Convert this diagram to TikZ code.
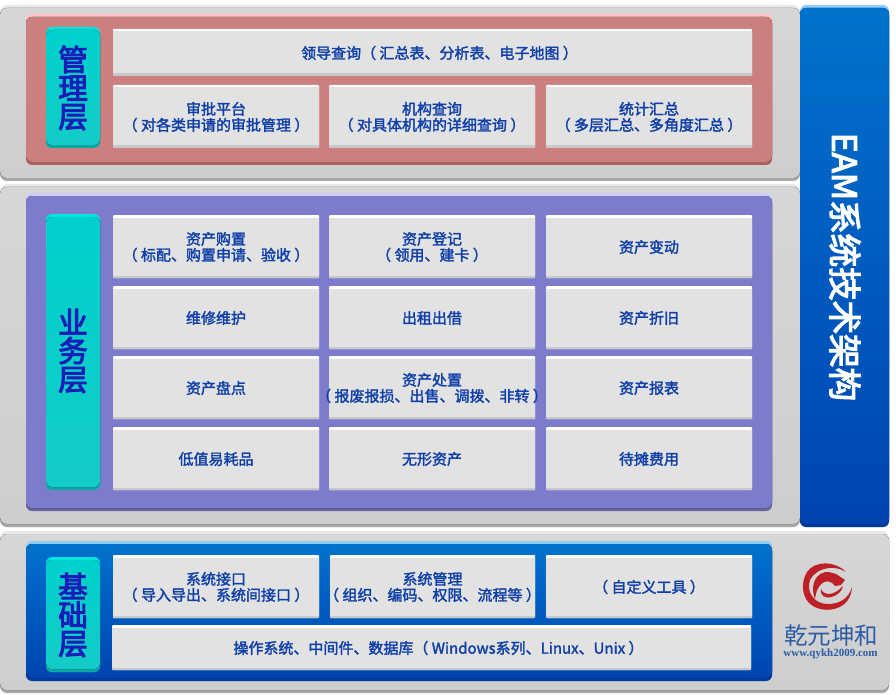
\documentclass[tikz,border=0pt]{standalone}
\usepackage{fontspec}
\setmainfont{Noto Sans CJK SC}
\newfontfamily\medfont[FakeBold=2]{Noto Sans CJK SC}
\newfontfamily\sidefont[FakeBold=3.5]{Noto Sans CJK SC}
\newfontfamily\urlfont{Liberation Serif}
\definecolor{celltxt}{HTML}{0F3FA8}
\definecolor{sidetxt}{HTML}{1A1DB8}
\definecolor{logotxt}{HTML}{2A5CA4}
\definecolor{logored}{HTML}{BE2028}
\definecolor{graylight}{HTML}{E9E9E9}
\definecolor{grayshade}{HTML}{A8A8A8}
\definecolor{graytop}{HTML}{D6D6D6}
\definecolor{graybot}{HTML}{CECECE}
\definecolor{bluelight}{HTML}{8CCBFA}
\definecolor{bluedark}{HTML}{003A9E}
\definecolor{bluetop}{HTML}{0072CC}
\definecolor{bluebot}{HTML}{0044B2}
\definecolor{redlight}{HTML}{FFC4C4}
\definecolor{reddark}{HTML}{A86262}
\definecolor{redface}{HTML}{CC7F7F}
\definecolor{purplelight}{HTML}{CDCDF8}
\definecolor{purpledark}{HTML}{66669E}
\definecolor{purpleface}{HTML}{7C7BCC}
\definecolor{tablight}{HTML}{00E4E0}
\definecolor{tabdark}{HTML}{0CA6A6}
\definecolor{tabtop}{HTML}{00D0CC}
\definecolor{tabbot}{HTML}{14CCC8}
\definecolor{cellshade}{HTML}{C8C8C8}
\definecolor{cellface}{HTML}{E2E2E2}
% x1,y1,x2,y2,radius,light,dark,top,bottom
\newcommand\bevelbox[9]{%
  \fill[#6,rounded corners=#5pt] (#1,#2) rectangle (#3,#4);
  \fill[#7,rounded corners=#5pt] (#1,#2+4) rectangle (#3,#4);
  \fill[top color=#8,bottom color=#9,rounded corners=#5pt] (#1,#2+3) rectangle (#3,#4-3);
}
\newcommand\cellbox[6]{% name,x1,y1,x2,y2,text
  \fill[white,rounded corners=1pt] (#2,#3) rectangle (#4,#5);
  \fill[cellshade,rounded corners=1pt] (#2,#3+3) rectangle (#4,#5);
  \fill[cellface] (#2,#3+2.5) rectangle (#4,#5-2.5);
  \node[celltext] (#1) at ({(#2+#4)/2},{(#3+#5)/2+0.5}) {#6};
}
\tikzset{
  celltext/.style={text=celltxt,align=center,font=\medfont\fontsize{15}{16}\selectfont,inner sep=0pt},
  sidetext/.style={text=sidetxt,align=center,font=\sidefont\fontsize{29.5}{28.5}\selectfont,inner sep=0pt},
}
\begin{document}
\begin{tikzpicture}[x=1pt,y=-1pt]
\useasboundingbox (0,0) rectangle (896,695);
\fill[white] (0,0) rectangle (896,695);
% grey panels
\bevelbox{0}{5}{800}{181}{7}{graylight}{grayshade}{graytop}{graybot}
\bevelbox{0}{184}{800}{527}{7}{graylight}{grayshade}{graytop}{graybot}
\bevelbox{0}{531}{889}{693}{7}{graylight}{grayshade}{graytop}{graybot}
% title column
\bevelbox{800}{5}{889}{527}{6}{bluelight}{bluedark}{bluetop}{bluebot}
\node[text=white,font=\sidefont\fontsize{33.5}{33}\selectfont,rotate=-90,inner sep=0pt] (title) at (845,267) {EAM系统技术架构};
% layers
\bevelbox{26}{14}{772}{165}{6}{redlight}{reddark}{redface}{redface}
\bevelbox{26}{193}{772}{511}{6}{purplelight}{purpledark}{purpleface}{purpleface}
\bevelbox{26}{541}{772}{681}{6}{bluelight}{bluedark}{bluetop}{bluebot}
% side tabs
\bevelbox{46}{27}{100}{148}{6}{tablight}{tabdark}{tabtop}{tabbot}
\node[sidetext] (s1) at (73,88) {管\\理\\层};
\bevelbox{46}{214}{100}{490}{6}{tablight}{tabdark}{tabtop}{tabbot}
\node[sidetext] (s2) at (73,351) {业\\务\\层};
\bevelbox{46}{557}{100}{672}{6}{tablight}{tabdark}{tabtop}{tabbot}
\node[sidetext] (s3) at (73,615) {基\\础\\层};
% management
\cellbox{m0}{113}{29}{752}{76}{\kern14pt 领导查询（ 汇总表、分析表、电子地图 ）}
\cellbox{m1}{113}{85}{319}{148}{审批平台\\（ 对各类申请的审批管理 ）}
\cellbox{m2}{329}{85}{535}{148}{机构查询\\（ 对具体机构的详细查询 ）}
\cellbox{m3}{546}{85}{752}{148}{统计汇总\\（ 多层汇总、多角度汇总 ）}
% business
\cellbox{b1}{113}{215}{319}{278}{资产购置\\（ 标配、购置申请、验收 ）}
\cellbox{b2}{329}{215}{535}{278}{资产登记\\（ 领用、建卡 ）}
\cellbox{b3}{546}{215}{752}{278}{资产变动}
\cellbox{b4}{113}{286}{319}{349}{维修维护}
\cellbox{b5}{329}{286}{535}{349}{出租出借}
\cellbox{b6}{546}{286}{752}{349}{资产折旧}
\cellbox{b7}{113}{356}{319}{419}{资产盘点}
\cellbox{b8}{329}{356}{535}{419}{资产处置\\（ 报废报损、出售、调拨、非转 ）}
\cellbox{b9}{546}{356}{752}{419}{资产报表}
\cellbox{b10}{113}{427}{319}{490}{低值易耗品}
\cellbox{b11}{329}{427}{535}{490}{无形资产}
\cellbox{b12}{546}{427}{752}{490}{待摊费用}
% base
\cellbox{f1}{113}{555}{319}{618}{系统接口\\（ 导入导出、系统间接口 ）}
\cellbox{f2}{330}{555}{535}{618}{系统管理\\（ 组织、编码、权限、流程等 ）}
\cellbox{f3}{546}{555}{752}{618}{（ 自定义工具 ）}
\cellbox{f4}{112}{625}{751}{670}{\kern14pt 操作系统、中间件、数据库（ Windows系列、Linux、Unix ）}
% logo
\fill[logored] (846,572) .. controls (836,561) and (815,560) .. (807,572) .. controls (800,583) and (802,600) .. (813,606) .. controls (826,614) and (851,610) .. (852,587) .. controls (849,598) and (840,604) .. (828,604) .. controls (815,604) and (808,594) .. (809,584) .. controls (810,572) and (830,562) .. (846,572) -- cycle;
\fill[logored] (815,599) .. controls (809,584) and (817,571) .. (829,572) -- (836,574) -- (845,580) -- (841,585) -- (835,586) .. controls (829,577) and (817,581) .. (815,599) -- cycle;
\fill[logored] (821,589) .. controls (824,596) and (834,596) .. (843,586) .. controls (841,598) and (819,603) .. (821,589) -- cycle;
\node[text=logotxt,font=\fontsize{23.5}{24}\selectfont,inner sep=0pt] (lg) at (831,636) {乾元坤和};
\node[text=logotxt,font=\urlfont\bfseries\fontsize{11}{11}\selectfont,inner sep=0pt] (url) at (830.5,654) {www.qykh2009.com};
\end{tikzpicture}
\end{document}
